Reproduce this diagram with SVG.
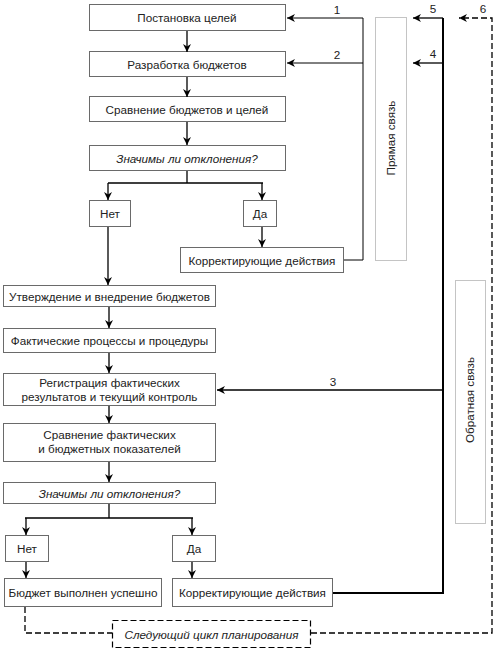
<svg xmlns="http://www.w3.org/2000/svg" width="500" height="652" viewBox="0 0 500 652">
<style>
.box{fill:#fff;stroke:#6a6a6a;stroke-width:1}
.dbox{fill:none;stroke:#888;stroke-width:1;stroke-dasharray:1,1}
.dash{fill:none;stroke:#000;stroke-width:1.3;stroke-dasharray:6,3}
.ln{fill:none;stroke:#000;stroke-width:1.3}
.t{font-family:"Liberation Sans",Arial,sans-serif;font-size:11.7px;fill:#222;text-anchor:middle}
.i{font-style:italic}
</style>
<defs>
<marker id="a" viewBox="0 0 10 10" refX="10" refY="5" markerWidth="8" markerHeight="8" markerUnits="userSpaceOnUse" orient="auto">
<path d="M0,0 L10,5 L0,10 L3,5 z" fill="#000"/>
</marker>
</defs>
<rect id="bg" width="500" height="652" fill="#fff"/>
<g id="n1"><rect class="box" x="89.5" y="4.5" width="196" height="26"/><text class="t" x="187" y="21.5">Постановка целей</text></g>
<g id="n2"><rect class="box" x="89.5" y="51.5" width="196" height="25"/><text class="t" x="187" y="68.5">Разработка бюджетов</text></g>
<g id="n3"><rect class="box" x="89.5" y="96.5" width="196" height="25"/><text class="t" x="187" y="113.5">Сравнение бюджетов и целей</text></g>
<g id="n4"><rect class="box" x="89.5" y="145.5" width="196" height="25"/><text class="t i" x="187" y="162.5">Значимы ли отклонения?</text></g>
<g id="n5"><rect class="box" x="89.5" y="200.5" width="41" height="26"/><text class="t" x="110" y="217.5">Нет</text></g>
<g id="n6"><rect class="box" x="243.5" y="200.5" width="33" height="26"/><text class="t" x="260" y="217.5">Да</text></g>
<g id="n7"><rect class="box" x="180.5" y="247.5" width="163" height="25"/><text class="t" x="262" y="264.5">Корректирующие действия</text></g>
<g id="n8"><rect class="dbox" x="375.5" y="17.5" width="31" height="243"/><text class="t" transform="translate(395,138) rotate(-90)">Прямая связь</text></g>
<g id="n9"><rect class="box" x="3.5" y="285.5" width="212" height="21"/><text class="t" x="109.5" y="300.5">Утверждение и внедрение бюджетов</text></g>
<g id="n10"><rect class="box" x="3.5" y="328.5" width="212" height="24"/><text class="t" x="109.5" y="344.5">Фактические процессы и процедуры</text></g>
<g id="n11"><rect class="box" x="3.5" y="373.5" width="212" height="32"/><text class="t" x="109.5" y="387">Регистрация фактических</text><text class="t" x="109.5" y="400.5">результатов и текущий контроль</text></g>
<g id="n12"><rect class="box" x="3.5" y="423.5" width="212" height="38"/><text class="t" x="109.5" y="439">Сравнение фактических</text><text class="t" x="109.5" y="452.5">и бюджетных показателей</text></g>
<g id="n13"><rect class="box" x="3.5" y="482.5" width="212" height="21"/><text class="t i" x="109.5" y="497.5">Значимы ли отклонения?</text></g>
<g id="n14"><rect class="box" x="5.5" y="535.5" width="43" height="26"/><text class="t" x="27" y="552.5">Нет</text></g>
<g id="n15"><rect class="box" x="172.5" y="535.5" width="43" height="26"/><text class="t" x="194" y="552.5">Да</text></g>
<g id="n16"><rect class="box" x="4.5" y="578.5" width="157" height="28"/><text class="t" x="83" y="596.5">Бюджет выполнен успешно</text></g>
<g id="n17"><rect class="box" x="172.5" y="578.5" width="160" height="28"/><text class="t" x="252.5" y="596.5">Корректирующие действия</text></g>
<g id="n18"><rect class="dbox" x="455.5" y="280.5" width="30" height="243"/><text class="t" transform="translate(474,400) rotate(-90)">Обратная связь</text></g>
<g id="n19"><rect class="box" x="112.5" y="620.5" width="198" height="27" style="stroke:#000;stroke-width:1.2;stroke-dasharray:6,3"/><text class="t i" x="211.5" y="638.5">Следующий цикл планирования</text></g>
<g id="connectors">
<path class="ln" d="M187,31 V52" marker-end="url(#a)"/>
<path class="ln" d="M187,77 V97" marker-end="url(#a)"/>
<path class="ln" d="M187,122 V145" marker-end="url(#a)"/>
<path class="ln" d="M187,171 V183 M108,183 H263"/>
<path class="ln" d="M108,183 V200" marker-end="url(#a)"/>
<path class="ln" d="M262,183 V200" marker-end="url(#a)"/>
<path class="ln" d="M262,227 V247" marker-end="url(#a)"/>
<path class="ln" d="M108,227 V285" marker-end="url(#a)"/>
<path class="ln" style="stroke-width:1" d="M344,260 H363 V18"/>
<path class="ln" style="stroke-width:1" d="M363,18 H287" marker-end="url(#a)"/>
<path class="ln" style="stroke-width:1" d="M363,63 H287" marker-end="url(#a)"/>
<path class="ln" style="stroke-width:2" d="M333,593 H443 V18"/>
<path class="ln" d="M443,18 H413" marker-end="url(#a)"/>
<path class="ln" d="M443,63 H413" marker-end="url(#a)"/>
<path class="ln" d="M443,390 H217" marker-end="url(#a)"/>
<path class="ln" d="M109,307 V328" marker-end="url(#a)"/>
<path class="ln" d="M109,353 V373" marker-end="url(#a)"/>
<path class="ln" d="M109,406 V423" marker-end="url(#a)"/>
<path class="ln" d="M109,462 V482" marker-end="url(#a)"/>
<path class="ln" d="M109,504 V518 M25,518 H193"/>
<path class="ln" d="M26,518 V535" marker-end="url(#a)"/>
<path class="ln" d="M192,518 V535" marker-end="url(#a)"/>
<path class="ln" d="M26,562 V578" marker-end="url(#a)"/>
<path class="ln" d="M192,562 V578" marker-end="url(#a)"/>
<path class="dash" d="M25,607 V633 H112"/>
<path class="dash" d="M311,633 H492 V18 H459" marker-end="url(#a)"/>
</g>
<g id="labels">
<text class="t" x="337" y="14">1</text>
<text class="t" x="337" y="59">2</text>
<text class="t" x="433" y="13">5</text>
<text class="t" x="433" y="58">4</text>
<text class="t" x="483" y="13">6</text>
<text class="t" x="333" y="386">3</text>
</g>
</svg>
